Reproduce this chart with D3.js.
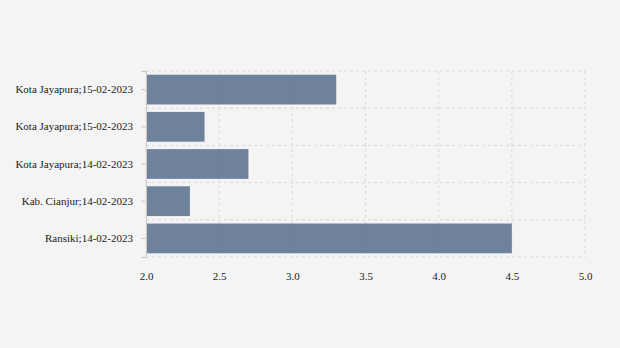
<!DOCTYPE html>
<html>
<head>
<meta charset="utf-8">
<script src="https://cdn.jsdelivr.net/npm/d3@7"></script>
<style>
  body { margin: 0; background: #f4f4f4; }
  svg { display: block; }
</style>
</head>
<body>
<svg id="chart"></svg>
<script>
const categories = [
  "Kota Jayapura;15-02-2023",
  "Kota Jayapura;15-02-2023 ",
  "Kota Jayapura;14-02-2023",
  "Kab. Cianjur;14-02-2023",
  "Ransiki;14-02-2023"
];
const values = [3.3, 2.4, 2.7, 2.3, 4.5];
const xTicks = [2.0, 2.5, 3.0, 3.5, 4.0, 4.5, 5.0];

const width = 620, height = 348;
const margin = {top: 71, right: 35, bottom: 91, left: 146};
const innerW = width - margin.left - margin.right;
const innerH = height - margin.top - margin.bottom;

const svg = d3.select('#chart')
    .attr('width', width)
    .attr('height', height);

svg.append('rect')
    .attr('width', width).attr('height', height)
    .attr('fill', '#f4f4f4');

const chart = svg.append('g')
    .attr('transform', `translate(${margin.left}, ${margin.top})`);

const xscale = d3.scaleLinear().domain([2, 5]).range([0, innerW]);
const yscale = d3.scaleBand().domain(categories).range([0, innerH]).paddingInner(0.2).paddingOuter(0.1);

// grid
const grid = chart.append('g');
grid.selectAll('line.v')
    .data(xTicks)
    .join('line')
    .attr('x1', d => xscale(d)).attr('x2', d => xscale(d))
    .attr('y1', 0).attr('y2', innerH)
    .attr('stroke', '#d9d9d9').attr('stroke-dasharray', '3,3');
const hlines = d3.range(categories.length + 1).map(i => i * innerH / categories.length);
grid.selectAll('line.h')
    .data(hlines)
    .join('line')
    .attr('x1', 0).attr('x2', innerW)
    .attr('y1', d => d).attr('y2', d => d)
    .attr('stroke', '#d9d9d9').attr('stroke-dasharray', '3,3');

// bars
chart.selectAll('rect.bar')
    .data(values)
    .join('rect')
    .attr('class', 'bar')
    .attr('x', xscale(2))
    .attr('y', (d, i) => yscale(categories[i]))
    .attr('width', d => xscale(d) - xscale(2))
    .attr('height', yscale.bandwidth())
    .attr('fill', '#5f7592')
    .attr('fill-opacity', 0.9);

// y axis
const yaxis = d3.axisLeft(yscale).tickSize(5).tickPadding(8).tickFormat(d => d.trim());
const yg = chart.append('g').call(yaxis);
yg.select('.domain').attr('stroke', '#cccccc');
yg.selectAll('.tick line').attr('stroke', '#cccccc');
yg.selectAll('text')
    .attr('fill', '#222')
    .style('font-family', '"Liberation Serif", "Times New Roman", serif')
    .style('font-size', '11px');

// x axis
const xaxis = d3.axisBottom(xscale).tickValues(xTicks).tickFormat(d3.format('.1f')).tickSize(0).tickPadding(15);
const xg = chart.append('g')
    .attr('transform', `translate(0, ${innerH})`)
    .call(xaxis);
xg.select('.domain').remove();
xg.selectAll('text')
    .attr('fill', '#222')
    .style('font-family', '"Liberation Serif", "Times New Roman", serif')
    .style('font-size', '11px');
</script>
</body>
</html>
